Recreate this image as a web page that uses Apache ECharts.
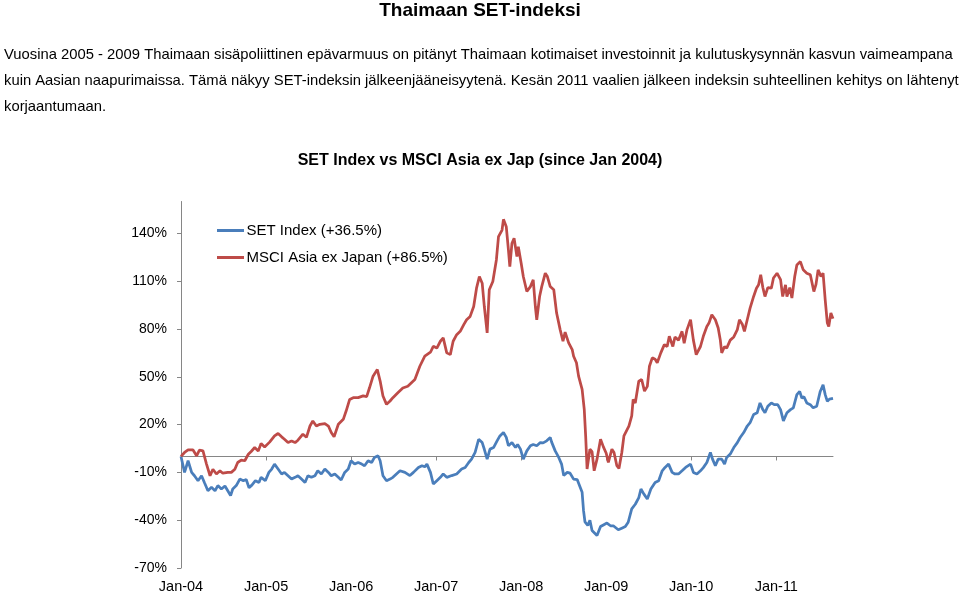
<!DOCTYPE html>
<html>
<head>
<meta charset="utf-8">
<script src="https://cdn.jsdelivr.net/npm/echarts@6/dist/echarts.min.js"></script>
<style>
html,body{margin:0;padding:0;background:#fff;}
#chart{width:960px;height:594px;}
</style>
</head>
<body>
<div id="chart"></div>
<script>
// Texts
const pageTitle = 'Thaimaan SET-indeksi';
const paragraphLines = [
  'Vuosina 2005 - 2009 Thaimaan sisäpoliittinen epävarmuus on pitänyt Thaimaan kotimaiset investoinnit ja kulutuskysynnän kasvun vaimeampana',
  'kuin Aasian naapurimaissa. Tämä näkyy SET-indeksin jälkeenjääneisyytenä. Kesän 2011 vaalien jälkeen indeksin suhteellinen kehitys on lähtenyt',
  'korjaantumaan.'
];
const chartTitle = 'SET Index vs MSCI Asia ex Jap (since Jan 2004)';
const seriesNames = ['SET Index (+36.5%)', 'MSCI Asia ex Japan (+86.5%)'];

// X tick labels (one per January, months since Jan 2004)
const xTickMonths = [0, 12, 24, 36, 48, 60, 72, 84];
const xTickLabels = ['Jan-04', 'Jan-05', 'Jan-06', 'Jan-07', 'Jan-08', 'Jan-09', 'Jan-10', 'Jan-11'];
// Y ticks (%)
const yTicks = [-70, -40, -10, 20, 50, 80, 110, 140];

// SET Index: months since Jan 2004, cumulative change (%)
const setMonths = [0,0.5,1.0,1.5,1.9,2.4,2.9,3.3,3.8,4.3,4.8,5.2,5.7,6.2,6.6,7.0,7.3,7.8,8.3,8.8,9.2,9.6,10.0,10.5,11.0,11.3,11.9,12.4,12.8,13.2,13.7,14.2,14.6,15.1,15.6,16.1,16.5,17.0,17.5,17.9,18.4,18.9,19.3,19.8,20.3,20.8,21.2,21.7,22.2,22.6,23.1,23.6,24.0,24.5,25.0,25.5,25.9,26.4,26.9,27.3,27.8,28.1,28.5,29.0,29.5,29.9,30.4,30.9,31.6,32.3,32.8,33.5,34.0,34.4,34.7,35.2,35.6,36.1,36.6,37.0,37.5,38.2,38.9,39.6,40.1,40.6,41.0,41.5,42.0,42.5,42.8,43.2,43.6,44.1,44.6,45.0,45.5,45.9,46.2,46.7,47.2,47.5,47.9,48.3,48.8,49.3,49.7,50.2,50.7,51.1,51.6,52.1,52.3,52.8,53.3,53.7,54.0,54.5,54.9,55.4,55.9,56.6,56.8,57.0,57.4,57.7,58.0,58.2,58.7,59.2,59.6,60.1,60.6,61.0,61.7,62.2,62.7,63.1,63.6,64.1,64.6,64.9,65.3,65.8,66.3,66.9,67.4,67.9,68.3,68.8,69.3,69.7,70.2,70.7,71.2,71.9,72.3,72.8,73.3,73.7,74.2,74.7,75.0,75.4,75.8,76.3,76.7,77.0,77.5,78.0,78.5,78.9,79.4,79.9,80.3,80.8,81.3,81.7,82.1,82.4,82.8,83.3,83.7,84.2,84.6,85.0,85.5,86.0,86.4,86.9,87.3,87.6,87.9,88.3,88.8,89.2,89.7,90.2,90.6,90.9,91.2,91.5,92.0];
const setValues = [0,-10,-2.7,-10,-12.1,-15.2,-12.1,-16.3,-21.5,-19.4,-21.5,-18.3,-20.4,-18.5,-21.5,-24.6,-20.4,-18.3,-14.2,-15.2,-14.5,-19.6,-18,-15.2,-16.3,-13.1,-15.2,-10,-7.9,-4.8,-7.9,-11,-10,-12.1,-14.2,-13.1,-12.1,-14.2,-16.3,-12.1,-13.1,-12.1,-9,-11,-7.9,-10,-12.1,-11,-13.1,-14.8,-10,-7.9,-2.7,-4.8,-3.8,-4.8,-5.8,-2.7,-3.8,-0.6,0.4,-2.7,-12.1,-15.2,-14.2,-13.1,-11,-9,-10,-12,-10,-6.9,-5.8,-6.5,-4.8,-10,-17.3,-15.2,-13.1,-11,-13.1,-12,-11,-7.9,-6.9,-3.8,-1.7,2.5,10.8,8.7,4.5,-1.7,4.6,5.6,9.8,12.9,15,12,6.7,8.7,5.6,7.5,4.6,-1.7,3.5,6.7,7.5,6.7,8.7,8.5,9.8,11.9,9,3.5,-0.6,-4.8,-12,-10,-10.5,-14.2,-14.5,-22.5,-34,-41,-43.3,-40,-46.5,-47,-49.6,-44,-43,-41.8,-43.5,-43.5,-46,-45,-44,-41.3,-32.9,-30,-25.8,-20.4,-23.5,-26.7,-20.4,-16.3,-15.2,-9,-6.9,-4.8,-10,-11,-11,-9,-6.9,-4.8,-10,-11,-9,-7,-3.8,2.5,-1.7,-5.8,-1.7,-1.7,-4.8,-0.6,1.5,5.6,8.7,11.9,15,19.1,21.2,26.3,27.4,33.6,29.4,27.4,31.5,33.6,32.5,32.5,29.4,22.3,27.4,29.4,30.5,38.8,40.8,36.7,37.5,33.6,32.5,30.5,31.5,40.8,44.9,38.8,34.6,36,36.5];

// MSCI Asia ex Japan: months since Jan 2004, cumulative change (%)
const msciMonths = [0,0.5,1.0,1.7,2.2,2.6,3.1,3.6,4.1,4.5,5.0,5.5,5.9,6.6,7.1,7.6,8.0,8.5,9.0,9.5,9.9,10.4,10.9,11.3,11.8,12.5,13.2,13.7,14.2,14.6,15.1,15.6,16.1,16.5,17.2,17.7,18.2,18.6,19.1,19.6,20.3,20.8,21.2,21.6,22.2,22.9,23.3,23.8,24.3,25.0,25.7,26.2,26.6,27.1,27.7,28.1,28.5,29.0,29.5,29.9,30.6,31.3,32.0,33.0,33.7,34.4,35.2,35.6,36.1,36.6,37.0,37.5,38.0,38.4,38.9,39.4,39.9,40.3,40.8,41.3,41.7,42.1,42.5,42.8,43.2,43.5,44.0,44.5,44.8,45.3,45.5,45.9,46.2,46.4,46.7,47.0,47.4,47.6,48.0,48.3,48.8,49.3,49.7,50.0,50.2,50.6,50.9,51.4,51.7,52.1,52.6,53.0,53.5,53.9,54.2,54.7,55.2,55.4,55.8,56.1,56.6,56.9,57.1,57.3,57.7,58.0,58.3,58.7,59.2,59.6,60.0,60.3,60.8,61.1,61.5,61.8,62.2,62.5,63.2,63.6,63.8,64.1,64.6,65.0,65.4,65.8,66.1,66.5,66.9,67.2,67.7,68.2,68.6,68.9,69.4,69.7,70.2,70.7,71.0,71.4,71.9,72.3,72.7,73.3,73.7,74.2,74.5,74.9,75.4,75.8,76.1,76.3,76.7,77.0,77.5,78.0,78.5,78.8,79.2,79.5,79.9,80.3,80.8,81.2,81.5,81.8,82.1,82.4,82.8,83.3,83.6,84.1,84.6,84.9,85.3,85.5,85.9,86.2,86.6,86.9,87.4,87.8,88.3,88.8,89.3,89.6,89.9,90.3,90.6,90.9,91.2,91.4,91.7,92.0];
const msciValues = [0,2.5,4.1,4.1,0.4,4,3.5,-4.8,-12.1,-8,-11,-9,-10.5,-10,-10,-8,-3.8,-2.3,-2.7,1.4,3.1,5.6,3.5,8.1,6,9,12.9,14.4,12.3,10.8,8.7,9.7,8.7,10.2,14,12,19.1,22.3,19.1,20.2,20.6,19.1,15,12.3,20.2,23.3,28.5,35.8,36.9,36.9,38,37.5,43.1,50.4,54.6,47.3,37.9,32.7,34.8,36.9,40,43,44.1,48.3,56.6,62.9,65.4,69.1,68,72.3,74.4,65,63.9,72.3,76.4,78.5,82.7,85.8,87.9,94.1,105.6,112.9,108.7,94.1,77.5,104.6,109.8,123.3,137.9,142.1,148.8,144.1,129.6,119.1,133.8,136.9,125.4,131.6,121.3,112.9,103.5,106.6,110.8,94.1,85.8,100.4,106.6,115,112.9,106.6,104.6,90,79.6,72.3,78,71.3,67.1,62.9,58.8,50.4,42.1,29.6,12.9,-7.9,4.5,3,-9,-1.7,10.8,6,2,-3.8,4.6,2.5,-5.8,-7.5,2.5,12.9,19.1,25.4,35.8,33.5,47.3,48.3,41,44,56.6,61.9,61,58.8,65,70.2,69,75.4,69,75,73,78.5,71,79.6,85.8,73,63.9,69,75.4,81.6,83.7,88.9,85.8,80.6,73,65,69,68,73,75,79.6,85.8,83,78.5,85.8,93.1,100.4,105.6,107.7,114,106,100.4,106,105.6,112,115,111,100.4,107.7,100.4,106,99.4,112.9,120.2,122.3,117.1,115,114,103.5,108,117.1,113,115,98.3,83.7,81.6,90,86.5];

const pair = (xs, ys) => xs.map((x, i) => [x, ys[i]]);

const chart = echarts.init(document.getElementById('chart'), null, {renderer: 'canvas'});
const FONT = '"Liberation Sans", Arial, sans-serif';
const axisGray = '#868686';
const lineIcon = 'path://M0,0 M27,14 M0,5.5 L27,5.5 L27,8.5 L0,8.5 Z';

chart.setOption({
  backgroundColor: '#ffffff',
  animation: false,
  textStyle: {fontFamily: FONT},
  title: [
    {text: pageTitle, left: 'center', top: 1, padding: 0,
     textStyle: {fontFamily: FONT, fontSize: 19, fontWeight: 'bold', color: '#000'}},
    {text: chartTitle, left: 'center', top: 153, padding: 0,
     textStyle: {fontFamily: FONT, fontSize: 16, fontWeight: 'bold', color: '#000'}}
  ],
  graphic: paragraphLines.map((t, i) => ({
    type: 'text', left: 4, top: 47 + i * 26,
    style: {text: t, fontFamily: FONT, fontSize: 14.8, fill: '#000'}
  })),
  legend: {
    orient: 'vertical', left: 217, top: 223, padding: 0,
    itemWidth: 28, itemHeight: 14, itemGap: 12,
    icon: lineIcon,
    textStyle: {fontFamily: FONT, fontSize: 15, color: '#000', padding: [0, 0, 0, -3]},
    data: seriesNames
  },
  grid: {left: 181, right: 127, top: 201.5, bottom: 23.5, containLabel: false},
  xAxis: [
    {
      type: 'value', min: 0, max: 92, position: 'bottom',
      axisLine: {show: true, onZero: true, lineStyle: {color: axisGray, width: 1}},
      axisTick: {show: true, inside: false, length: 4, customValues: xTickMonths, lineStyle: {color: axisGray}},
      axisLabel: {show: false},
      splitLine: {show: false}
    },
    {
      type: 'value', min: 0, max: 92, position: 'bottom', offset: 0,
      axisLine: {show: false, onZero: false},
      axisTick: {show: false},
      axisLabel: {
        show: true, margin: 11, customValues: xTickMonths,
        fontFamily: FONT, fontSize: 14.5, color: '#000',
        formatter: v => xTickLabels[xTickMonths.indexOf(v)] || ''
      },
      splitLine: {show: false}
    }
  ],
  yAxis: {
    type: 'value', min: -70, max: 160,
    axisLine: {show: true, onZero: false, lineStyle: {color: axisGray, width: 1}},
    axisTick: {show: true, inside: false, length: 4, customValues: yTicks, lineStyle: {color: axisGray}},
    axisLabel: {
      show: true, margin: 14, customValues: yTicks,
      fontFamily: FONT, fontSize: 14, color: '#000',
      formatter: v => v + '%'
    },
    splitLine: {show: false}
  },
  series: [
    {
      name: seriesNames[0], type: 'line', xAxisIndex: 0,
      data: pair(setMonths, setValues),
      symbol: 'none', smooth: false,
      lineStyle: {color: '#4a7ebb', width: 2.75},
      itemStyle: {color: '#4a7ebb'}
    },
    {
      name: seriesNames[1], type: 'line', xAxisIndex: 0,
      data: pair(msciMonths, msciValues),
      symbol: 'none', smooth: false,
      lineStyle: {color: '#be4b48', width: 2.75},
      itemStyle: {color: '#be4b48'}
    }
  ]
});
</script>
</body>
</html>
